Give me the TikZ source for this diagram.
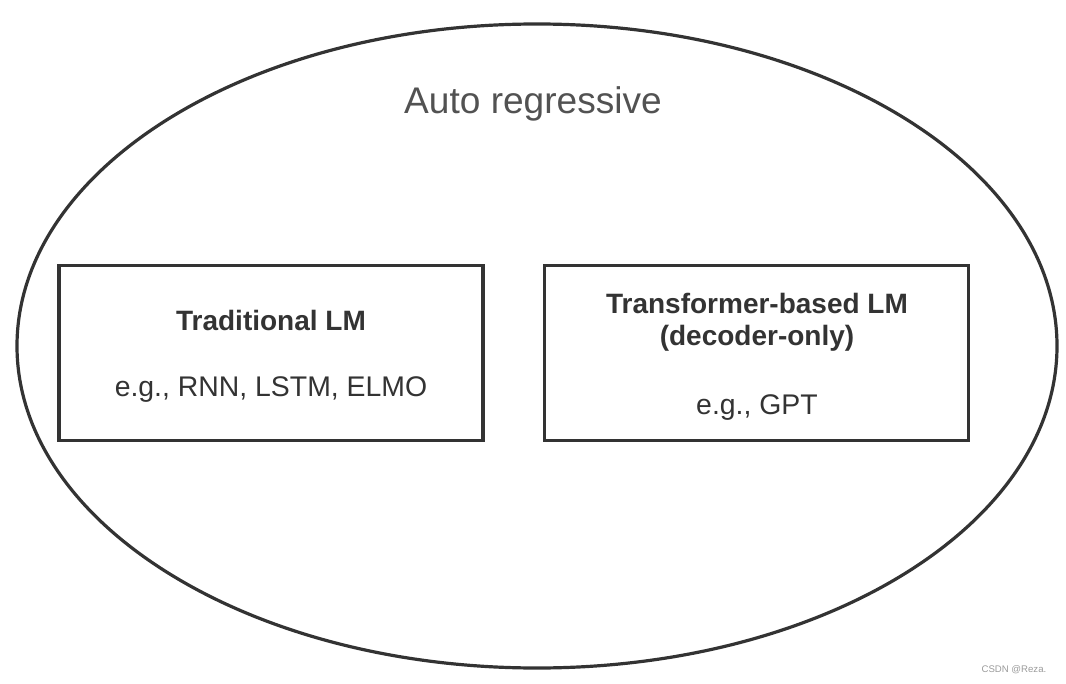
\documentclass[tikz,border=0pt]{standalone}
\usepackage{fontspec}
\setmainfont{Liberation Sans}
\usetikzlibrary{positioning,shapes.geometric}

\definecolor{inkgray}{HTML}{333333}
\definecolor{markgray}{HTML}{9A9A9A}

\begin{document}
\begin{tikzpicture}[x=0.75pt,y=-0.75pt,
  model/.style={draw=inkgray,line width=2.4pt,minimum width=318pt,minimum height=131pt},
  title/.style={font=\fontsize{21}{24}\selectfont\bfseries,text=inkgray},
  example/.style={font=\fontsize{21.3}{24}\selectfont,text=inkgray}]
  \useasboundingbox (0,0) rectangle (1066,684);
  \node[draw=inkgray,line width=2.4pt,ellipse,minimum width=780pt,minimum height=483pt] (ar) at (537,346){};
  \node[font=\fontsize{27.8}{32}\selectfont,text=inkgray!85] (arlabel) at (533,104){Auto regressive};

  \node[model] (trad) at (271,353){};
  \node[model] (trans) at (756.5,353){};

  \node[title] (tradname) at (271,320){Traditional LM};
  \node[example] (tradeg) at (271,390){e.g., RNN, LSTM, ELMO};

  \node[title] (transname) at (757,303){Transformer-based LM};
  \node[title] (transkind) at (757,338){(decoder-only)};
  \node[example] (transeg) at (757,408){e.g., GPT};

  \node[font=\fontsize{7.2}{8}\selectfont,text=markgray,anchor=east] (mark) at (1051,670){CSDN @Reza.};
\end{tikzpicture}
\end{document}
